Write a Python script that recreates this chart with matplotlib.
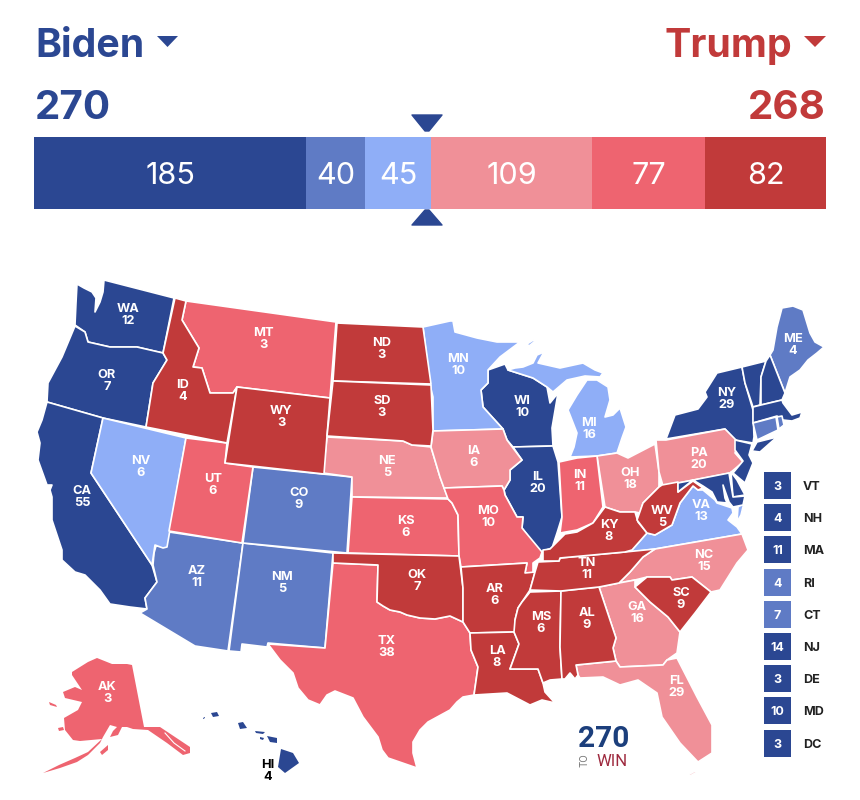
"""
2020 electoral map, 270toWin style: rating bar on top, state map below,
small-state key on the right. Outlines are traced in image pixels.
"""

import matplotlib
matplotlib.use("Agg")
import matplotlib.pyplot as plt
from matplotlib.patches import Polygon, Rectangle

plt.rcParams['font.family'] = ['Inter', 'Roboto', 'DejaVu Sans']

# =============================================================================
# DATA
# =============================================================================
RATING_TOTALS = [185, 40, 45, 109, 77, 82]
RATING_COLORS = ["#2B4792", "#5F7BC5", "#8FAEF7", "#F09098", "#EE6470", "#C13A3A"]
BIDEN_TOTAL = 270
TRUMP_TOTAL = 268

STATES = ["WA", "OR", "CA", "WI", "IL", "NY", "HI",
          "AZ", "NM", "CO", "ME",
          "NV", "MN", "MI", "VA",
          "NE", "IA", "OH", "PA", "NC", "GA", "FL",
          "MT", "UT", "TX", "KS", "MO", "IN", "AK",
          "ID", "WY", "ND", "SD", "OK", "AR", "LA", "MS", "AL", "TN", "KY", "WV", "SC"]
VOTES = [12, 7, 55, 10, 20, 29, 4,
         11, 5, 9, 4,
         6, 10, 16, 13,
         5, 6, 18, 20, 15, 16, 29,
         3, 6, 38, 6, 10, 11, 3,
         4, 3, 3, 3, 7, 6, 8, 6, 9, 11, 8, 5, 9]
RATINGS = [0, 0, 0, 0, 0, 0, 0,
           1, 1, 1, 1,
           2, 2, 2, 2,
           3, 3, 3, 3, 3, 3, 3,
           4, 4, 4, 4, 4, 4, 4,
           5, 5, 5, 5, 5, 5, 5, 5, 5, 5, 5, 5, 5]

KEY_STATES = ["VT", "NH", "MA", "RI", "CT", "NJ", "DE", "MD", "DC"]
KEY_VOTES = [3, 4, 11, 4, 7, 14, 3, 10, 3]
KEY_RATINGS = [0, 0, 0, 1, 1, 0, 0, 0, 0]

# label anchors, image pixels
LABEL_POS = {
    "WA": (128, 314), "OR": (107, 379), "CA": (82, 495), "NV": (141, 465), "ID": (183, 389),
    "MT": (263, 337), "WY": (281, 416), "UT": (213, 484), "CO": (299, 497), "AZ": (197, 575),
    "NM": (282, 582), "ND": (382, 348), "SD": (382, 405), "NE": (387, 465), "KS": (406, 525),
    "OK": (417, 580), "TX": (387, 646), "MN": (458, 364), "IA": (474, 456), "MO": (488, 516),
    "AR": (495, 593), "LA": (497, 655), "WI": (522, 405), "IL": (538, 481), "MI": (589, 428),
    "IN": (580, 479), "OH": (630, 477), "KY": (609, 529), "TN": (587, 568), "MS": (541, 621),
    "AL": (587, 617), "GA": (637, 612), "FL": (677, 686), "SC": (681, 598), "NC": (704, 559),
    "VA": (701, 509), "WV": (662, 516), "PA": (699, 458), "NY": (727, 398), "ME": (793, 343),
    "AK": (107, 692), "HI": (268, 770),
}

# outlines, image pixels
OUTLINES = {
    "WA": [[(77, 284), (84, 288), (92, 292), (96, 298), (95, 312), (100, 302), (103, 292), (104, 280),
            (174, 298), (163, 353), (137, 347), (110, 347), (88, 342), (85, 332), (75, 325), (76, 303)]],
    "OR": [[(75, 326), (85, 332), (88, 342), (110, 347), (137, 347), (163, 353), (167, 360), (153, 383),
            (146, 427), (103, 418), (47, 402), (48, 383), (62, 357)]],
    "CA": [[(47, 402), (103, 418), (91, 473), (152, 565), (157, 582), (145, 598), (147, 609), (130, 607),
            (110, 604), (100, 590), (85, 575), (75, 572), (62, 560), (62, 550), (52, 520), (52, 497), (50, 490),
            (52, 485), (47, 485), (38, 460), (40, 443), (37, 432), (42, 420)]],
    "NV": [[(103, 418), (186, 438), (167, 547), (163, 548), (155, 545), (152, 565), (91, 473)]],
    "ID": [[(175, 298), (186, 301), (182, 320), (199, 348), (193, 367), (202, 368), (210, 393), (233, 393),
            (237, 387), (227, 443), (146, 427), (153, 383), (167, 360), (163, 353)]],
    "MT": [[(186, 301), (336, 322), (330, 398), (237, 387), (233, 393), (210, 393), (202, 368), (193, 367),
            (199, 348), (182, 320)]],
    "WY": [[(237, 387), (330, 398), (324, 474), (225, 463)]],
    "UT": [[(186, 438), (227, 443), (225, 463), (253, 467), (242, 543), (169, 531)]],
    "CO": [[(253, 467), (352, 477), (347, 553), (243, 543)]],
    "AZ": [[(169, 532), (243, 543), (228, 651), (195, 646), (140, 613), (147, 609), (145, 598), (157, 582),
            (153, 565), (154, 553), (156, 546), (165, 547)]],
    "NM": [[(243, 543), (333, 553), (325, 648), (268, 643), (267, 647), (242, 644), (241, 652), (229, 651)]],
    "TX": [[(333, 563), (378, 565), (377, 602), (383, 606), (390, 610), (400, 612), (407, 615), (420, 618),
            (435, 619), (450, 616), (463, 622), (470, 633), (471, 650), (478, 667), (474, 695), (463, 697),
            (457, 702), (450, 710), (428, 722), (420, 730), (413, 742), (413, 753), (417, 768), (388, 758),
            (382, 750), (378, 737), (363, 717), (353, 698), (335, 691), (327, 695), (320, 705), (308, 700),
            (298, 688), (293, 673), (280, 660), (268, 644), (325, 648)]],
    "OK": [[(333, 553), (459, 556), (463, 588), (463, 622), (450, 616), (435, 619), (420, 618), (407, 615),
            (400, 612), (390, 610), (383, 606), (377, 602), (378, 565), (333, 563)]],
    "KS": [[(352, 497), (448, 499), (452, 503), (458, 515), (459, 556), (348, 553)]],
    "NE": [[(327, 437), (403, 441), (412, 445), (431, 447), (440, 477), (448, 498), (352, 497), (352, 477),
            (323, 473)]],
    "SD": [[(333, 381), (431, 385), (433, 430), (431, 446), (412, 445), (403, 441), (327, 436)]],
    "ND": [[(337, 323), (423, 327), (431, 384), (333, 381)]],
    "MN": [[(423, 327), (450, 321), (453, 321), (455, 332), (477, 338), (497, 342), (520, 342), (500, 357),
            (488, 370), (488, 383), (481, 390), (483, 407), (503, 429), (433, 431), (433, 397), (430, 385)]],
    "IA": [[(433, 431), (503, 429), (507, 440), (513, 448), (522, 460), (510, 470), (510, 480), (504, 490),
            (502, 486), (444, 488), (440, 477), (431, 447)]],
    "MO": [[(444, 488), (502, 486), (504, 490), (505, 495), (517, 517), (523, 517), (522, 528), (542, 552),
            (540, 558), (533, 563), (533, 573), (525, 573), (527, 563), (461, 567), (459, 556), (458, 515),
            (452, 503), (448, 499)]],
    "AR": [[(461, 567), (527, 563), (525, 573), (535, 572), (530, 590), (522, 602), (518, 608), (515, 620),
            (515, 632), (470, 633), (463, 622), (463, 588)]],
    "LA": [[(470, 633), (514, 632), (519, 644), (510, 669), (538, 669), (543, 683), (545, 692), (555, 703),
            (542, 700), (530, 705), (507, 693), (474, 695), (478, 667), (471, 650)]],
    "MS": [[(561, 591), (530, 592), (522, 602), (518, 608), (515, 620), (514, 632), (519, 644), (510, 669),
            (538, 669), (543, 683), (550, 680), (562, 679), (560, 647)]],
    "AL": [[(561, 591), (599, 587), (616, 638), (613, 648), (616, 661), (576, 665), (578, 675), (575, 679),
            (570, 673), (565, 679), (562, 679), (560, 647)]],
    "GA": [[(599, 587), (619, 583), (635, 580), (635, 587), (650, 602), (668, 617), (680, 632), (677, 653),
            (667, 660), (663, 665), (620, 667), (616, 661), (613, 648), (616, 638)]],
    "FL": [[(576, 665), (616, 661), (620, 667), (663, 665), (667, 660), (677, 658), (697, 697), (712, 725),
            (712, 753), (698, 762), (680, 743), (662, 717), (657, 693), (638, 680), (620, 685), (603, 677),
            (580, 678), (578, 675)],
           [(688, 775), (695, 771), (697, 772), (690, 776)]],
    "SC": [[(635, 587), (647, 577), (670, 577), (672, 580), (692, 577), (711, 592), (695, 613), (680, 632),
            (668, 617), (650, 602)]],
    "NC": [[(619, 583), (630, 572), (643, 557), (655, 549), (742, 534), (748, 550), (737, 563), (720, 590),
            (711, 592), (692, 577), (672, 580), (670, 577), (647, 577), (635, 580)]],
    "TN": [[(655, 549), (625, 552), (560, 558), (559, 561), (538, 562), (535, 572), (530, 590), (561, 591),
            (599, 587), (619, 583), (630, 572), (643, 557)]],
    "KY": [[(543, 561), (543, 550), (550, 549), (557, 542), (565, 534), (577, 532), (593, 523), (605, 507),
            (620, 512), (635, 512), (638, 522), (647, 533), (632, 550), (625, 552), (560, 558), (559, 561)]],
    "IL": [[(513, 447), (553, 446), (558, 462), (562, 517), (557, 533), (552, 548), (540, 552), (522, 528),
            (523, 517), (517, 517), (505, 495), (504, 490), (510, 480), (510, 470), (522, 460)]],
    "IN": [[(559, 462), (577, 458), (597, 456), (603, 507), (593, 523), (577, 530), (560, 533), (562, 517)]],
    "WI": [[(488, 370), (505, 364), (508, 370), (533, 378), (547, 387), (550, 403), (558, 393), (552, 428),
            (553, 446), (513, 447), (507, 440), (503, 429), (483, 407), (481, 390), (488, 383)]],
    "MI": [[(570, 457), (574, 447), (577, 433), (570, 415), (568, 410), (577, 395), (587, 380), (597, 380),
            (608, 387), (610, 400), (605, 417), (613, 415), (620, 408), (626, 427), (622, 438), (617, 453),
            (597, 456)],
           [(515, 368), (523, 367), (533, 363), (537, 355), (544, 352), (538, 363), (560, 368), (583, 363),
            (595, 370), (603, 373), (600, 377), (585, 376), (567, 380), (553, 392), (547, 387), (533, 378),
            (508, 370)],
           [(527, 344), (535, 339), (534, 342), (529, 346)]],
    "OH": [[(597, 456), (617, 453), (628, 458), (655, 444), (659, 472), (659, 487), (643, 503), (640, 513),
            (635, 512), (620, 512), (605, 507)]],
    "PA": [[(656, 440), (666, 440), (725, 429), (738, 442), (735, 453), (743, 462), (730, 473), (663, 486),
            (659, 472)]],
    "WV": [[(662, 485), (678, 482), (678, 492), (693, 481), (703, 488), (698, 490), (693, 486), (680, 503),
            (672, 525), (655, 535), (647, 533), (637, 520), (643, 503), (659, 487)]],
    "VA": [[(630, 552), (647, 533), (655, 535), (672, 525), (680, 503), (693, 486), (698, 490), (703, 490),
            (715, 500), (717, 503), (732, 508), (733, 513), (728, 520), (737, 527), (742, 534), (655, 549)],
           [(738, 507), (744, 503), (741, 515), (737, 522)]],
    "NY": [[(666, 439), (675, 415), (698, 409), (707, 397), (705, 392), (717, 373), (742, 367), (745, 383),
            (753, 410), (754, 437), (753, 443), (735, 440), (725, 429)],
           [(752, 451), (757, 442), (777, 437), (760, 452)]],
    "ME": [[(770, 355), (773, 350), (777, 327), (782, 308), (793, 306), (803, 310), (810, 333), (815, 342),
            (824, 347), (817, 353), (808, 360), (800, 370), (790, 377), (785, 393)]],
    "AK": [[(132, 665), (144, 727), (150, 727), (160, 727), (190, 747), (190, 753), (183, 755), (167, 743),
            (148, 730), (133, 729), (127, 727), (122, 727), (118, 735), (110, 737), (113, 731), (117, 727),
            (110, 725), (103, 737), (100, 743), (88, 755), (77, 762), (60, 768), (43, 773), (59, 765), (75, 758),
            (88, 752), (102, 739), (80, 741), (73, 740), (65, 730), (64, 718), (78, 710), (82, 702), (65, 698),
            (63, 692), (75, 687), (82, 690), (72, 675), (72, 672), (88, 662), (97, 658), (112, 664), (127, 664)],
           [(100, 752), (108, 745), (108, 750), (102, 755)],
           [(49, 702), (56, 705), (57, 707), (50, 705)],
           [(58, 728), (63, 727), (64, 730), (59, 731)]],
    "HI": [[(281, 749), (293, 753), (299, 763), (285, 773), (278, 767)],
           [(267, 736), (272, 737), (277, 738), (277, 743), (270, 742)],
           [(255, 731), (265, 732), (263, 734), (256, 733)],
           [(260, 737), (264, 738), (263, 740), (260, 739)],
           [(238, 723), (243, 722), (247, 728), (240, 729)],
           [(211, 713), (217, 712), (219, 716), (213, 717)],
           [(203, 718), (205, 717), (205, 718), (203, 719)]],
}

KEY_OUTLINES = {
    "VT": [(742, 367), (766, 361), (761, 377), (760, 405), (753, 407), (745, 383)],
    "NH": [(766, 361), (770, 355), (785, 393), (782, 400), (761, 405), (761, 377)],
    "MA": [(753, 407), (761, 405), (782, 400), (783, 403), (792, 415), (802, 412), (800, 418), (792, 421),
           (783, 420), (777, 416), (753, 423)],
    "RI": [(777, 417), (782, 416), (784, 425), (779, 429)],
    "CT": [(753, 423), (776, 417), (778, 430), (757, 440)],
    "NJ": [(735, 440), (752, 444), (749, 455), (753, 463), (745, 483), (733, 473), (743, 461), (735, 450)],
    "DE": [(731, 472), (737, 480), (745, 495), (733, 497)],
    "MD": [(678, 483), (729, 473), (733, 497), (745, 496), (743, 505), (733, 507), (729, 502), (723, 485),
           (725, 498), (727, 503), (717, 502), (712, 492), (703, 486), (693, 480), (678, 492)],
}

# thin gap among the southeast Alaska islands
AK_GAPS = [[(165, 733), (174, 743), (185, 751)]]

# =============================================================================
# FIGURE, one axes in image pixels for everything but the bar
# =============================================================================
W, H = 860, 800
fig = plt.figure(figsize=(W / 100, H / 100), dpi=100, facecolor="white")
ax = fig.add_axes([0, 0, 1, 1])
ax.set_xlim(0, W)
ax.set_ylim(H, 0)
ax.axis("off")

BLUE = RATING_COLORS[0]
RED = RATING_COLORS[5]

# -----------------------------------------------------------------------------
# Header
# -----------------------------------------------------------------------------
ax.text(35, 57, "Biden", color=BLUE, fontsize=28.3, fontweight="bold", va="baseline", ha="left")
ax.text(792, 57, "Trump", color=RED, fontsize=28.3, fontweight="bold", va="baseline", ha="right")
ax.text(35, 119, str(BIDEN_TOTAL), color=BLUE, fontsize=29, fontweight="bold", va="baseline", ha="left")
ax.text(826, 119, str(TRUMP_TOTAL), color=RED, fontsize=29, fontweight="bold", va="baseline", ha="right")

ax.add_patch(Polygon([(157, 36), (178, 36), (167.5, 47)], fc=BLUE, ec="none"))
ax.add_patch(Polygon([(804, 36), (826, 36), (815, 47)], fc=RED, ec="none"))
ax.add_patch(Polygon([(412, 115), (442, 115), (429, 131), (425, 131)], fc=BLUE, ec=BLUE, lw=1, joinstyle="round"))
ax.add_patch(Polygon([(425, 210), (429, 210), (442, 225), (412, 225)], fc=BLUE, ec=BLUE, lw=1, joinstyle="round"))

# -----------------------------------------------------------------------------
# Rating bar
# -----------------------------------------------------------------------------
bar_ax = fig.add_axes([34 / W, 1 - 208.5 / H, 792 / W, 71.5 / H])
bar_ax.set_xlim(0, sum(RATING_TOTALS))
bar_ax.set_ylim(0, 1)
bar_ax.axis("off")
left = 0
for value, color in zip(RATING_TOTALS, RATING_COLORS):
    bar_ax.barh(0.5, value, left=left, height=1, color=color, linewidth=0)
    bar_ax.text(left + value / 2, 0.5, str(value), color="white", fontsize=22,
                ha="center", va="center_baseline")
    left += value

# -----------------------------------------------------------------------------
# Map
# -----------------------------------------------------------------------------
for state, votes, rating in zip(STATES, VOTES, RATINGS):
    # Alaska and Hawaii are too thin in places to carry a white border
    edge = 0 if state in ("AK", "HI") else 1.2
    for part in OUTLINES[state]:
        ax.add_patch(Polygon(part, closed=True, fc=RATING_COLORS[rating], ec="white", lw=edge, joinstyle="round"))

for state, rating in zip(KEY_STATES, KEY_RATINGS):
    if state in KEY_OUTLINES:
        ax.add_patch(Polygon(KEY_OUTLINES[state], closed=True, fc=RATING_COLORS[rating], ec="white", lw=1.2,
                             joinstyle="round"))

for gap in AK_GAPS:
    ax.plot([p[0] for p in gap], [p[1] for p in gap], color="white", lw=0.8)

for state, votes in zip(STATES, VOTES):
    x, y = LABEL_POS[state]
    color = "black" if state == "HI" else "white"
    ax.text(x, y - 6, state, color=color, fontsize=9.2, fontweight="bold", ha="center", va="center_baseline")
    ax.text(x, y + 6, str(votes), color=color, fontsize=9.2, fontweight="bold", ha="center", va="center_baseline")

# -----------------------------------------------------------------------------
# Small state key
# -----------------------------------------------------------------------------
for i, (state, votes, rating) in enumerate(zip(KEY_STATES, KEY_VOTES, KEY_RATINGS)):
    y_c = 485.5 + i * 32.2
    ax.add_patch(Rectangle((764, y_c - 13.5), 27, 27, fc=RATING_COLORS[rating], ec="none"))
    ax.text(777.5, y_c, str(votes), color="white", fontsize=9, fontweight="bold",
            ha="center", va="center_baseline")
    ax.text(803, y_c, state, color="#222222", fontsize=9, fontweight="bold",
            ha="left", va="center_baseline")

# -----------------------------------------------------------------------------
# Logo
# -----------------------------------------------------------------------------
ax.text(603.5, 747, "270", color="#1C3F7C", fontsize=21.5, fontweight="bold",
        family="Roboto", ha="center", va="baseline")
ax.text(589, 760, "TO", color="#777777", fontsize=7, rotation=90, ha="right", va="center")
ax.text(612, 766, "WIN", color="#9E2A3F", fontsize=12, ha="center", va="baseline", family="Roboto")

fig.savefig("out.png", dpi=100, facecolor="white")
